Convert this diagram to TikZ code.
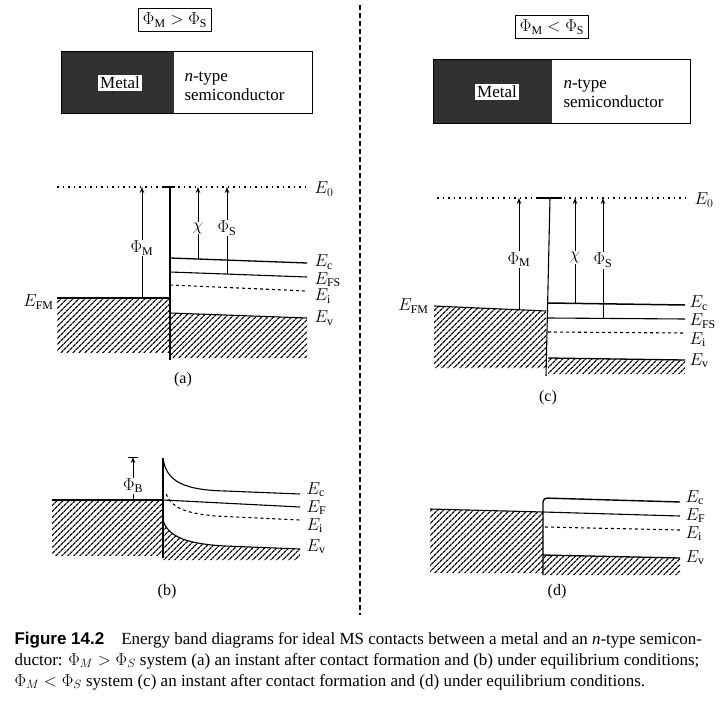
\documentclass[tikz,border=0pt]{standalone}
\usepackage{fontspec}
\setmainfont{Liberation Serif}
\newfontfamily\figfont{Liberation Sans}
\usetikzlibrary{patterns.meta,arrows.meta}
\definecolor{metaldark}{RGB}{48,48,48}

\begin{document}
\begin{tikzpicture}[x=1pt,y=-1pt,>={Stealth[length=6pt,width=4.5pt]},line width=1pt,
    font=\fontsize{17}{19}\selectfont,
    hatch/.style={pattern={Lines[angle=45,distance=4pt,line width=1.3pt]}},
    band/.style={line width=1.1pt},
    vac/.style={line width=1.5pt,dash pattern=on 1.5pt off 4pt},
    lbl/.style={anchor=west,inner sep=0pt,text height=11pt,text depth=3pt},
    tag/.style={draw,line width=1pt,inner sep=4pt},
    gap/.style={fill=white,inner sep=1pt},
    panel/.style={font=\fontsize{16}{18}\selectfont}]
    \useasboundingbox (0,0) rectangle (720,719);
    % headers
    \node[tag] (tagL) at (175,20) {$\Phi_\mathrm{M} > \Phi_\mathrm{S}$};
    \node[tag] (tagR) at (552,27) {$\Phi_\mathrm{M} < \Phi_\mathrm{S}$};
    \fill[metaldark] (61,52) rectangle (174,114);
    \draw (61,52) rectangle (312,114);
    \node[fill=white,inner sep=2pt] (metL) at (120,83) {Metal};
    \node[anchor=west,align=left,inner sep=0pt] (semL) at (184,86) {\textit{n}-type\\semiconductor};
    \fill[metaldark] (433,60) rectangle (552,124);
    \draw (433,60) rectangle (690,124);
    \node[fill=white,inner sep=2pt] (metR) at (497,92) {Metal};
    \node[anchor=west,align=left,inner sep=0pt] (semR) at (563,93) {\textit{n}-type\\semiconductor};
    \draw[dash pattern=on 5pt off 3pt,line width=1.1pt] (360,5) -- (360,615);

    % (a)
    \fill[hatch] (57,298) rectangle (170,352);
    \fill[hatch] (170,313) -- (307,318) -- (307,358) -- (170,358) -- cycle;
    \draw[vac] (57,187) -- (310,187);
    \draw[band,line width=1.6pt] (163,187) -- (175,187);
    \draw[band] (57,298) -- (170,298);
    \draw[band] (170,187) -- (170,360);
    \draw[band,line width=1.3pt] (170,258) -- (307,263);
    \draw[band] (170,272) -- (307,277);
    \draw[band,dashed] (170,285) -- (307,291);
    \draw[band] (170,313) -- (307,318);
    \node[lbl] (e0a) at (314,190) {$E_0$};
    \node[lbl] (eca) at (314,263) {$E_\mathrm{c}$};
    \node[lbl] (efa) at (314,280) {$E_\mathrm{FS}$};
    \node[lbl] (eia) at (314,297) {$E_\mathrm{i}$};
    \node[lbl] (eva) at (314,319) {$E_\mathrm{v}$};
    \node[anchor=east,inner sep=1pt] (efma) at (55,302) {$E_\mathrm{FM}$};
    \coordinate (am0) at (142,298); \coordinate (am1) at (142,187);
    \coordinate (ac0) at (198,259); \coordinate (ac1) at (198,187);
    \coordinate (as0) at (227,274); \coordinate (as1) at (227,187);
    \draw[->] (am0) -- node[gap,pos=0.45] {$\Phi_\mathrm{M}$} (am1);
    \draw[->] (ac0) -- node[gap,pos=0.43] {$\chi$} (ac1);
    \draw[->] (as0) -- node[gap,pos=0.53] {$\Phi_\mathrm{S}$} (as1);
    \node[panel] (capa) at (183,380) {(a)};

    % (b)
    \fill[hatch] (52,500) rectangle (163,555);
    \fill[hatch] (163,520) .. controls (168,538) and (190,544) .. (225,546) -- (300,549)
      -- (300,560) -- (163,560) -- cycle;
    \draw[band] (52,500) -- (163,500);
    \draw[band] (163,458) -- (163,558);
    \draw[band] (163,458) .. controls (166,482) and (185,490) .. (225,491) -- (300,494);
    \draw[band] (163,500) -- (300,507);
    \draw[band,dashed] (166,494) .. controls (172,508) and (185,513) .. (215,516) -- (300,520);
    \draw[band] (163,520) .. controls (168,538) and (190,544) .. (225,546) -- (300,549);
    \node[lbl] (ecb) at (306,490) {$E_\mathrm{c}$};
    \node[lbl] (efb) at (306,508) {$E_\mathrm{F}$};
    \node[lbl] (eib) at (306,526) {$E_\mathrm{i}$};
    \node[lbl] (evb) at (306,547) {$E_\mathrm{v}$};
    \coordinate (pb0) at (133,500); \coordinate (pb1) at (133,457);
    \draw[->] (pb0) -- node[gap,pos=0.33] {$\Phi_\mathrm{B}$} (pb1);
    \draw ([xshift=-5pt]pb1) -- ([xshift=5pt]pb1);
    \node[panel] (capb) at (167,592) {(b)};

    % (c)
    \fill[hatch] (434,306) -- (546,311) -- (546,368) -- (434,368) -- cycle;
    \fill[hatch] (548,358) -- (685,360) -- (685,374) -- (548,374) -- cycle;
    \draw[vac] (437,198) -- (686,198);
    \draw[band,line width=1.6pt] (537,198) -- (562,198);
    \draw[band] (434,306) -- (546,311);
    \draw[band] (550,198) -- (546,376);
    \draw[band,line width=1.5pt] (548,303) -- (685,305);
    \draw[band] (548,318) -- (685,319);
    \draw[band,dashed] (548,332) -- (685,333);
    \draw[band,line width=1.3pt] (548,358) -- (685,360);
    \node[lbl] (e0c) at (694,201) {$E_0$};
    \node[lbl] (ecc) at (689,304) {$E_\mathrm{c}$};
    \node[lbl] (efc) at (689,322) {$E_\mathrm{FS}$};
    \node[lbl] (eic) at (689,340) {$E_\mathrm{i}$};
    \node[lbl] (evc) at (689,361) {$E_\mathrm{v}$};
    \node[anchor=east,inner sep=1pt] (efmc) at (430,306) {$E_\mathrm{FM}$};
    \coordinate (cm0) at (519,310); \coordinate (cm1) at (519,198);
    \coordinate (cc0) at (575,303); \coordinate (cc1) at (575,198);
    \coordinate (cs0) at (603,318); \coordinate (cs1) at (603,198);
    \draw[->] (cm0) -- node[gap,pos=0.45] {$\Phi_\mathrm{M}$} (cm1);
    \draw[->] (cc0) -- node[gap,pos=0.43] {$\chi$} (cc1);
    \draw[->] (cs0) -- node[gap,pos=0.48] {$\Phi_\mathrm{S}$} (cs1);
    \node[panel] (capc) at (548,398) {(c)};

    % (d)
    \fill[hatch] (430,509) -- (543,512) -- (543,573) -- (430,573) -- cycle;
    \fill[hatch] (543,555) -- (680,558) -- (680,575) -- (543,575) -- cycle;
    \draw[band] (430,509) -- (543,512);
    \draw[band,line width=1.4pt,rounded corners=4pt] (543,575) -- (543,498) -- (680,502);
    \draw[band] (543,512) -- (680,516);
    \draw[band,dashed] (545,527) -- (680,530);
    \draw[band,line width=1.3pt] (543,555) -- (680,558);
    \node[lbl] (ecd) at (685,498) {$E_\mathrm{c}$};
    \node[lbl] (efd) at (685,516) {$E_\mathrm{F}$};
    \node[lbl] (eid) at (685,534) {$E_\mathrm{i}$};
    \node[lbl] (evd) at (685,558) {$E_\mathrm{v}$};
    \node[panel] (capd) at (557,592) {(d)};

    % caption
    \node[anchor=west,inner sep=0pt] (cap1) at (14,640) {{\figfont\bfseries Figure 14.2}\quad Energy band diagrams for ideal MS contacts between a metal and an \textit{n}-type semicon-};
    \node[anchor=west,inner sep=0pt] (cap2) at (14,661) {ductor: $\Phi_M > \Phi_S$ system (a) an instant after contact formation and (b) under equilibrium conditions;};
    \node[anchor=west,inner sep=0pt] (cap3) at (14,682) {$\Phi_M < \Phi_S$ system (c) an instant after contact formation and (d) under equilibrium conditions.};
  \end{tikzpicture}
\end{document}
